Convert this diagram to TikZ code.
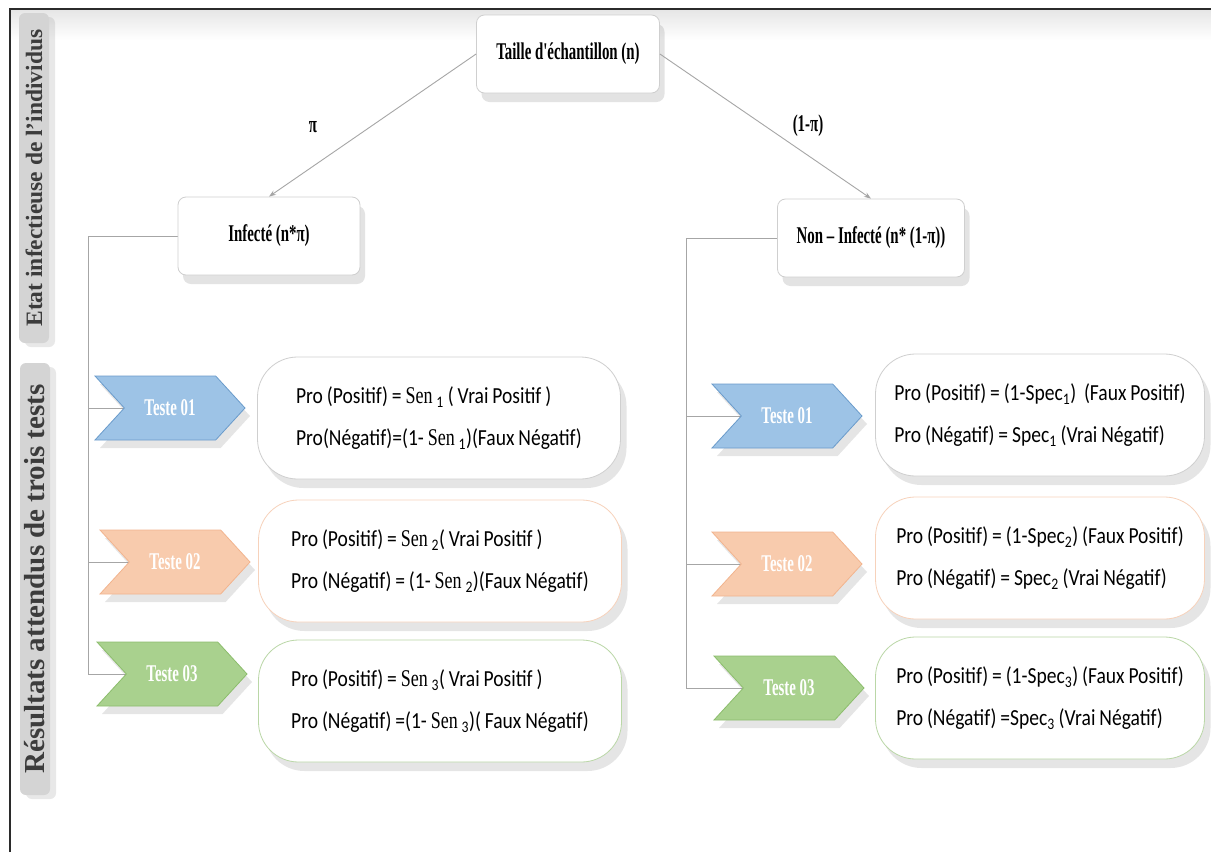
\documentclass[tikz,border=0pt]{standalone}
\usepackage{fontspec}
\setmainfont{Liberation Serif}
\newfontfamily\condserif[FakeStretch=0.62]{Liberation Serif}
\newfontfamily\senfont[FakeStretch=0.75]{Liberation Serif}
\newfontfamily\condsans[FakeStretch=0.85]{Carlito}
\usepackage{xcolor}
\usepackage{tikz}
\usetikzlibrary{
  arrows.meta,
  backgrounds,
  shadows,
  shapes.symbols
}
\definecolor{treeGray}{HTML}{A6A6A6}
\definecolor{tabGray}{HTML}{D4D4D4}
\definecolor{tabText}{HTML}{3C3C3C}
\definecolor{boxLine}{HTML}{CFCFCF}
\definecolor{testBlue}{HTML}{9DC3E6}
\definecolor{testBlueLine}{HTML}{6A9BCB}
\definecolor{testOrange}{HTML}{F8CBAD}
\definecolor{testOrangeLine}{HTML}{F2B48E}
\definecolor{testGreen}{HTML}{A9D18E}
\definecolor{testGreenLine}{HTML}{8CBD6C}
\definecolor{frameLine}{HTML}{2B2B2B}

\newcommand{\senval}[1]{{\senfont\fontsize{24}{27}\selectfont Sen}\,\textsubscript{#1}}
\newcommand{\specval}[1]{Spec\textsubscript{#1}}
\newcommand{\resfont}{\condsans\fontsize{23}{27}\selectfont
  \spaceskip=0.17em plus 0.05em\relax}

\begin{document}
\begin{tikzpicture}[
  x=1pt, y=-1pt,
  state/.style={
    draw=boxLine,
    fill=white,
    rounded corners=8pt,
    line width=0.8pt,
    minimum height=78pt,
    font=\condserif\bfseries\fontsize{24}{28}\selectfont,
    drop shadow={opacity=0.22, shadow xshift=5pt, shadow yshift=-9pt}
  },
  sidetab/.style={
    fill=tabGray,
    rounded corners=6pt,
    rotate=90,
    minimum height=30pt,
    text=tabText,
    drop shadow={opacity=0.18, shadow xshift=6pt, shadow yshift=-4pt}
  },
  testbox/.style={
    signal, signal to=east, signal from=west,
    signal pointer angle=95,
    minimum width=150pt,
    minimum height=64pt,
    line width=0.8pt,
    text=white,
    font=\condserif\bfseries\fontsize{24}{28}\selectfont,
    drop shadow={opacity=0.2, shadow xshift=5pt, shadow yshift=-8pt}
  },
  blueTest/.style={testbox, fill=testBlue, draw=testBlueLine},
  orangeTest/.style={testbox, fill=testOrange, draw=testOrangeLine},
  greenTest/.style={testbox, fill=testGreen, draw=testGreenLine},
  result/.style={
    draw=boxLine,
    fill=white,
    rounded corners=40pt,
    line width=0.8pt,
    align=left,
    minimum height=122pt,
    inner xsep=6pt,
    font=\resfont,
    drop shadow={opacity=0.2, shadow xshift=6pt, shadow yshift=-9pt}
  },
  leftres/.style={result, minimum width=363pt},
  rightres/.style={result, minimum width=329pt},
  edgelabel/.style={font=\condserif\bfseries\fontsize{24}{28}\selectfont},
  branch/.style={draw=treeGray, line width=0.9pt},
  flow/.style={branch, -{Stealth[length=7pt,width=5pt]}}
]
\useasboundingbox (0,0) rectangle (1211,852);

% side tabs
\node[sidetab, minimum width=330pt, font=\bfseries\fontsize{23.5}{26}\selectfont]
  (tabEtat) at (34,178) {Etat infectieuse de l'individus};
\node[sidetab, minimum width=432pt, font=\bfseries\fontsize{29}{32}\selectfont]
  (tabRes) at (35,579) {Résultats attendus de trois tests};

% tree
\node[state, minimum width=183pt] (taille) at (568,54) {Taille d'échantillon (n)};
\node[state, minimum width=182pt] (infecte) at (269,236) {Infecté (n*π)};
\node[state, minimum width=187pt] (noninfecte) at (871,238) {Non – Infecté (n* (1-π))};

\draw[flow] (taille.west) -- (infecte.north);
\draw[flow] (taille.east) -- (noninfecte.north);
\node[edgelabel] (piLeft) at (313,127) {π};
\node[edgelabel] (piRight) at (808,126) {(1-π)};

% infected side
\node[blueTest] (ltest1) at (170,408) {Teste 01};
\node[orangeTest] (ltest2) at (175,562) {Teste 02};
\node[greenTest] (ltest3) at (172,674) {Teste 03};

\node[leftres] (lres1) at (439,418)
  {Pro (Positif) = \senval{1} ( Vrai Positif )\\[15pt]
   Pro(Négatif)=(1- \senval{1})(Faux Négatif)};
\node[leftres, draw=testOrangeLine!60] (lres2) at (440,561)
  {Pro (Positif) = \senval{2}( Vrai Positif )\\[15pt]
   Pro (Négatif) = (1- \senval{2})(Faux Négatif)};
\node[leftres, draw=testGreenLine!60] (lres3) at (440,701)
  {Pro (Positif) = \senval{3}( Vrai Positif )\\[15pt]
   Pro (Négatif) =(1- \senval{3})( Faux Négatif)};

% non infected side
\node[blueTest] (rtest1) at (787,416) {Teste 01};
\node[orangeTest] (rtest2) at (787,564) {Teste 02};
\node[greenTest] (rtest3) at (789,688) {Teste 03};

\node[rightres] (rres1) at (1040,415)
  {Pro (Positif) = (1-\specval{1})\ \ (Faux Positif)\\[15pt]
   Pro (Négatif) = \specval{1} (Vrai Négatif)};
\node[rightres, draw=testOrangeLine!60] (rres2) at (1040,558)
  {Pro (Positif) = (1-\specval{2}) (Faux Positif)\\[15pt]
   Pro (Négatif) = \specval{2} (Vrai Négatif)};
\node[rightres, draw=testGreenLine!60] (rres3) at (1040,698)
  {Pro (Positif) = (1-\specval{3}) (Faux Positif)\\[15pt]
   Pro (Négatif) =\specval{3} (Vrai Négatif)};

\begin{scope}[on background layer]
  \fill[white] (0,0) rectangle (1211,852);
  \shade[top color=gray!20, bottom color=white] (10,9) rectangle (1211,40);
  \coordinate (ltrunk) at (88,0);
  \coordinate (rtrunk) at (686,0);
  \draw[branch] (infecte.west) -| (ltrunk |- ltest3) -- (ltest3.center);
  \draw[branch] (ltrunk |- ltest1) -- (ltest1.center);
  \draw[branch] (ltrunk |- ltest2) -- (ltest2.center);
  \draw[branch] (noninfecte.west) -| (rtrunk |- rtest3) -- (rtest3.center);
  \draw[branch] (rtrunk |- rtest1) -- (rtest1.center);
  \draw[branch] (rtrunk |- rtest2) -- (rtest2.center);
\end{scope}

\draw[frameLine, line width=2.5pt] (10,852) -- (10,9) -- (1211,9);

\end{tikzpicture}
\end{document}
